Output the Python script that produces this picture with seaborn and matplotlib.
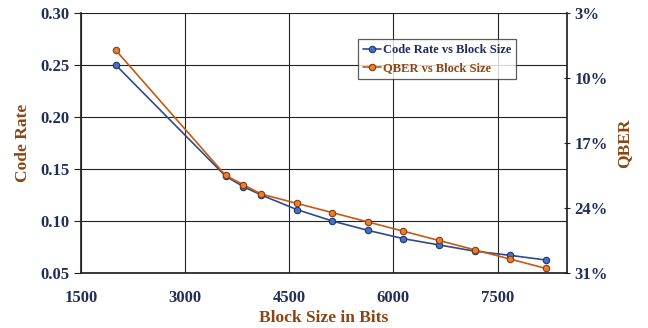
import matplotlib
matplotlib.use("Agg")
import matplotlib.pyplot as plt
import seaborn as sns
import pandas as pd
from matplotlib.ticker import FuncFormatter

block_size = [2000, 3584, 3840, 4096, 4608, 5120, 5632, 6144, 6656, 7168, 7680, 8192]
code_rate = [0.250, 0.143, 0.133, 0.125, 0.111, 0.100, 0.091, 0.083, 0.077, 0.071, 0.067, 0.0625]
qber = [7.0, 20.5, 21.5, 22.5, 23.5, 24.5, 25.5, 26.5, 27.5, 28.5, 29.5, 30.5]
x_ticks = [1500, 3000, 4500, 6000, 7500]
left_ticks = [0.05, 0.10, 0.15, 0.20, 0.25, 0.30]
right_ticks = [3, 10, 17, 24, 31]

sns.set_theme(style="white")
plt.rcParams['font.family'] = ['Liberation Serif', 'DejaVu Serif']
plt.rcParams['font.weight'] = 'bold'

navy = "#1F2D5A"
brown = "#8B4513"
blue_line = "#2E4A8C"
blue_fill = "#4472C4"
orange_line = "#C55A11"
orange_fill = "#ED7D31"

df = pd.DataFrame({"block": block_size, "rate": code_rate, "qber": qber})

fig = plt.figure(figsize=(6.48, 3.28), dpi=100)
ax = fig.add_axes([0.125, 0.1677, 0.75, 0.7927])
ax2 = ax.twinx()

sns.lineplot(data=df, x="block", y="rate", ax=ax, color=blue_line, marker="o",
             markersize=4.6, markerfacecolor=blue_fill, markeredgecolor="#1F3864",
             markeredgewidth=0.8, linewidth=1.2, label="Code Rate vs Block Size", legend=False)
sns.lineplot(data=df, x="block", y="qber", ax=ax2, color=orange_line, marker="o",
             markersize=4.6, markerfacecolor=orange_fill, markeredgecolor="#843C0C",
             markeredgewidth=0.8, linewidth=1.2, label="QBER vs Block Size", legend=False)

ax.set_xlim(1500, 8500)
ax.set_ylim(0.05, 0.30)
ax.set_xticks(x_ticks)
ax.set_yticks(left_ticks)
ax.yaxis.set_major_formatter(FuncFormatter(lambda v, p: f"{v:.2f}"))
ax.grid(True, color="#222222", linewidth=0.8)
ax.set_axisbelow(True)

ax2.set_ylim(31, 3)
ax2.set_yticks(right_ticks)
ax2.yaxis.set_major_formatter(FuncFormatter(lambda v, p: f"{v:.0f}%"))
ax2.grid(False)

for a in (ax, ax2):
    a.spines["top"].set_visible(False)
    for s in ["left", "bottom", "right"]:
        a.spines[s].set_color("#222222")
ax.spines["right"].set_visible(False)
ax2.spines["left"].set_visible(False)
ax2.spines["bottom"].set_visible(False)

ax.tick_params(axis="y", which="both", left=True, length=5, width=0.8, color="#222222",
               labelsize=12, labelcolor=navy, pad=3)
ax.tick_params(axis="x", bottom=False, labelsize=12, labelcolor=navy, pad=6)
ax2.tick_params(axis="y", right=True, length=5, width=0.8, color="#222222",
                labelsize=12, labelcolor=navy, pad=3, direction="inout")
for lab in ax.get_xticklabels() + ax.get_yticklabels() + ax2.get_yticklabels():
    lab.set_fontweight("bold")

ax.set_xlabel("Block Size in Bits", fontsize=12.5, color=brown, fontweight="bold", labelpad=3)
ax.set_ylabel("Code Rate", fontsize=12.5, color=brown, fontweight="bold", labelpad=7)
ax2.set_ylabel("QBER", fontsize=12.5, color=brown, fontweight="bold", labelpad=6)

h1, l1 = ax.get_legend_handles_labels()
h2, l2 = ax2.get_legend_handles_labels()
leg = ax2.legend(h1 + h2, l1 + l2, loc="upper left", bbox_to_anchor=(0.57, 0.9),
                 borderaxespad=0, fontsize=9, frameon=True, fancybox=False, edgecolor="#333333",
                 handlelength=1.4, handletextpad=0.2, borderpad=0.4, labelspacing=0.5)
leg.get_frame().set_linewidth(0.9)
for t, c in zip(leg.get_texts(), [navy, brown]):
    t.set_color(c)
    t.set_fontweight("bold")

fig.savefig("out.png", dpi=100)
